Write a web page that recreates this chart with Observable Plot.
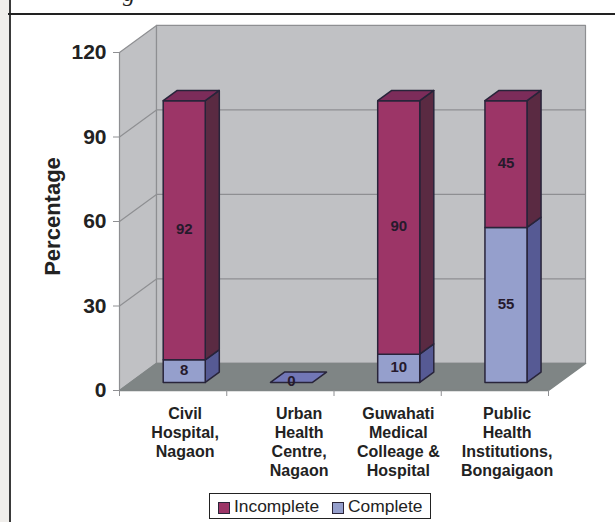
<!DOCTYPE html>
<html>
<head>
<meta charset="utf-8">
<script src="https://cdn.jsdelivr.net/npm/d3@7"></script>
<script src="https://cdn.jsdelivr.net/npm/@observablehq/plot@0.6"></script>
<style>
  html, body { margin: 0; padding: 0; background: #fff; overflow: hidden; }
  #page { position: relative; width: 615px; height: 522px; overflow: hidden; font-family: "Liberation Sans", Arial, sans-serif; }
  #strip { position: absolute; left: 0; top: 0; width: 9px; height: 522px; background: #f0eeeb; }
  #vrule { position: absolute; left: 9px; top: 0; width: 2px; height: 522px; background: #3a3a3a; }
  #hrule { position: absolute; left: 8px; top: 13px; width: 607px; height: 2px; background: #222; }
  #caption { position: absolute; left: 123px; top: -20px; font: italic 24px "Liberation Serif", serif; color: #222; }
  #chart { position: absolute; left: 0; top: 0; }
  #legend { position: absolute; left: 209px; top: 493px; width: 220px; height: 24px; border: 1px solid #222; background: #fff; color: #222; font-size: 17.4px; }
  #legend i { position: absolute; top: 8px; width: 10px; height: 10px; border: 1px solid #2a2438; }
  #legend span { position: absolute; top: 2px; line-height: 20px; }
</style>
</head>
<body>
<div id="page">
  <div id="strip"></div>
  <div id="vrule"></div>
  <div id="hrule"></div>
  <div id="caption">g</div>
  <div id="chart"></div>
  <div id="legend"></div>
</div>
<script>
// Survey results by facility, in per cent
const categories = [
  "Civil\nHospital,\nNagaon",
  "Urban\nHealth\nCentre,\nNagaon",
  "Guwahati\nMedical\nColleage &\nHospital",
  "Public\nHealth\nInstitutions,\nBongaigaon"
];
const incomplete = [92, 0, 90, 45];
const complete = [8, 0, 10, 55];
const yTicks = [0, 30, 60, 90, 120];
const seriesNames = ["Incomplete", "Complete"];

// Oblique projection: depth 0 is the front of the box, depth 1 the back wall
const skewX = 0.345;
const skewY = 9.6;
const project = (cat, value, depth) => ({x: cat + depth * skewX, y: value + depth * skewY});

const palette = {
  Incomplete: {front: "#9c3567", side: "#5a2a42", top: "#7c2c5a"},
  Complete: {front: "#959fcc", side: "#565a94", top: "#7277b6"}
};
const wall = "#c0c1c4";
const floor = "#7f8585";
const wallEdge = "#8e8f92";
const barEdge = "#28243a";

const quad = (id, fill, corners) => corners.map((c) => ({id, fill, ...project(c[0], c[1], c[2])}));

// Box shell
const shell = [
  ...quad("left", wall, [[0, 0, 0], [0, 120, 0], [0, 120, 1], [0, 0, 1]]),
  ...quad("back", wall, [[0, 0, 1], [0, 120, 1], [4, 120, 1], [4, 0, 1]])
];
const ground = quad("floor", floor, [[0, 0, 0], [4, 0, 0], [4, 0, 1], [0, 0, 1]]);

// Grid lines run up the side wall and across the back wall
const grid = yTicks.slice(1, -1).flatMap((v) => [
  {id: v, ...project(0, v, 0)},
  {id: v, ...project(0, v, 1)},
  {id: v, ...project(4, v, 1)}
]);

// Bars sit inside the box between two depths
const near = 0.3, far = 0.68, half = 0.196;
const faces = [];
const labels = [];
categories.forEach((_, i) => {
  const cx = i + 0.5;
  const l = cx - half, r = cx + half;
  let base = 0;
  const stack = [["Complete", complete[i]], ["Incomplete", incomplete[i]]];
  stack.forEach(([name, v]) => {
    if (v > 0) {
      const t = base + v;
      const c = palette[name];
      faces.push(...quad(`${i}${name}s`, c.side, [[r, base, near], [r, t, near], [r, t, far], [r, base, far]]));
      faces.push(...quad(`${i}${name}f`, c.front, [[l, base, near], [l, t, near], [r, t, near], [r, base, near]]));
      labels.push({...project(cx, base + v / 2, near), text: String(v)});
      base = t;
    }
  });
  const topName = incomplete[i] > 0 ? "Incomplete" : "Complete";
  faces.push(...quad(`${i}top`, palette[topName].top, [[l, base, near], [r, base, near], [r, base, far], [l, base, far]]));
  if (base === 0) labels.push({...project(cx, 0, near), text: "0"});
});

// The category captions are centred slightly differently under each group
const captionX = [0.612, 1.675, 2.6, 3.614];
const captions = categories.map((text, i) => ({text, x: captionX[i], y: 0}));

const closed = {x: "x", y: "y", z: "id", curve: "linear-closed"};

const chart = Plot.plot({
  width: 615,
  height: 522,
  marginLeft: 119,
  marginRight: 67,
  marginTop: 52,
  marginBottom: 132,
  style: {fontFamily: "'Liberation Sans', Arial, sans-serif", background: "transparent", overflow: "visible"},
  x: {domain: [0, 4]},
  y: {domain: [0, 120]},
  color: {type: "identity"},
  marks: [
    Plot.line(shell, {...closed, fill: "fill", stroke: wallEdge, strokeWidth: 1.2}),
    Plot.line(ground, {...closed, fill: "fill", stroke: floor}),
    Plot.line(grid, {x: "x", y: "y", z: "id", stroke: wallEdge, strokeWidth: 1.2}),
    Plot.line(faces, {...closed, fill: "fill", stroke: barEdge, strokeWidth: 1.5}),
    Plot.text(labels, {x: "x", y: "y", text: "text", fontSize: 15, fontWeight: "bold", fill: "#261a2c", dy: -1}),
    Plot.axisY({ticks: yTicks, tickSize: 6, tickPadding: 7, label: null, fontSize: 21, fontWeight: "bold", stroke: "#8e8f92", fill: "#222"}),
    Plot.axisX({ticks: [0, 1, 2, 3, 4], tickSize: 6, tickFormat: () => "", label: null, stroke: "#8e8f92"}),
    Plot.text(captions, {x: "x", y: "y", text: "text", lineAnchor: "top", lineHeight: 1.19, fontSize: 16, fontWeight: "bold", fill: "#222", dy: 15}),
    Plot.text(["Percentage"], {frameAnchor: "left", text: (d) => d, textAnchor: "middle", rotate: -90, dx: -67, dy: -5, fontSize: 22, fontWeight: "bold", fill: "#222"})
  ]
});
document.getElementById("chart").append(chart);

// Legend keys
const legend = document.getElementById("legend");
seriesNames.forEach((name, i) => {
  const swatch = document.createElement("i");
  swatch.style.left = (i ? 122 : 8) + "px";
  swatch.style.background = palette[name].front;
  const label = document.createElement("span");
  label.style.left = (i ? 138 : 24) + "px";
  label.textContent = name;
  legend.append(swatch, label);
});
</script>
</body>
</html>
